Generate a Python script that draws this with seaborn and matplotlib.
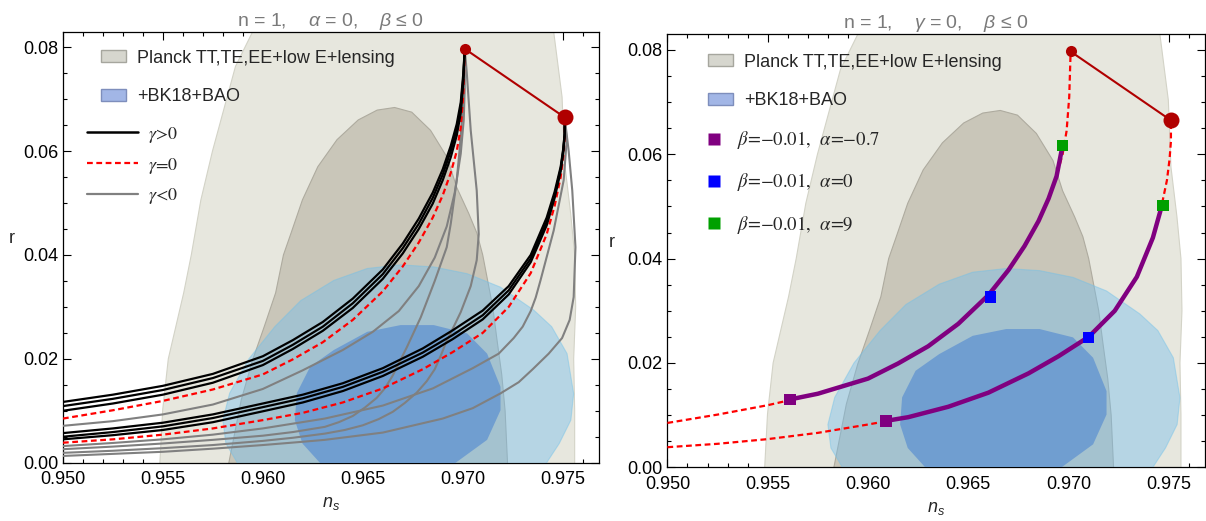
import numpy as np
import matplotlib
matplotlib.use("Agg")
import matplotlib.pyplot as plt
import seaborn as sns
from matplotlib.patches import Patch
from matplotlib.lines import Line2D
from matplotlib.ticker import MultipleLocator, FormatStrFormatter

# ---------------- data ----------------
# Planck 95% / 68% regions (n_s, r) boundary points
PLANCK95_NS = [0.95485, 0.95485, 0.95499, 0.95527, 0.95604, 0.95642, 0.95690, 0.95748, 0.95863, 0.95949, 0.9605,
               0.9640, 0.9680, 0.9725, 0.97455, 0.97497, 0.9751, 0.9754, 0.9756, 0.97565, 0.97555, 0.9756, 0.9756, 0.9756]
PLANCK95_R = [-0.005, 0.0, 0.0102, 0.0200, 0.0327, 0.0400, 0.0506, 0.0600, 0.0763, 0.0830, 0.0900,
              0.0960, 0.0970, 0.0930, 0.0830, 0.0704, 0.0576, 0.0480, 0.0400, 0.0300, 0.0200, 0.0100, 0.0, -0.005]
PLANCK68_NS = [0.95828, 0.95830, 0.95892, 0.95949, 0.96007, 0.96064, 0.96103, 0.96141, 0.96198, 0.96275, 0.96371,
               0.96477, 0.96572, 0.96659, 0.96745, 0.96839, 0.96922, 0.96970, 0.97030, 0.97071, 0.97100, 0.97125,
               0.97150, 0.97172, 0.97195, 0.97212, 0.97224, 0.97224]
PLANCK68_R = [-0.005, 0.0, 0.0121, 0.0198, 0.0262, 0.0327, 0.0400, 0.0442, 0.0506, 0.0570, 0.0622,
              0.0660, 0.0679, 0.0684, 0.0675, 0.0640, 0.0588, 0.0530, 0.0480, 0.0442, 0.0400, 0.0350,
              0.0300, 0.0235, 0.0170, 0.0100, 0.0, -0.005]
BK95_NS = [0.95872, 0.95815, 0.95800, 0.95834, 0.95930, 0.96060, 0.96189, 0.96355, 0.96522, 0.96689, 0.96855,
           0.97022, 0.97189, 0.97355, 0.97445, 0.97522, 0.97555, 0.97541, 0.97483, 0.97420, 0.9738, 0.9592]
BK95_R = [0.0, 0.0037, 0.0082, 0.0134, 0.0200, 0.0262, 0.0312, 0.0351, 0.0374, 0.0381, 0.0377,
          0.0364, 0.0338, 0.0294, 0.0262, 0.0210, 0.0133, 0.0082, 0.0037, 0.0, -0.003, -0.003]
BK68_NS = [0.96285, 0.96198, 0.96160, 0.96170, 0.96237, 0.96355, 0.96522, 0.96689, 0.96855, 0.97022, 0.97122,
           0.97189, 0.97189, 0.97122, 0.96965, 0.9690, 0.9635]
BK68_R = [0.0, 0.0037, 0.0082, 0.0134, 0.0185, 0.0217, 0.0252, 0.0265, 0.0265, 0.0249, 0.0210,
          0.0146, 0.0101, 0.0044, 0.0, -0.002, -0.002]

# end points (beta = 0) of the two families
END_NS = [0.9701, 0.9751]
END_R = [0.0797, 0.0665]

# family A (ends at the upper dot)
A_NS = [0.9500, 0.9525, 0.9550, 0.9575, 0.9600, 0.9615, 0.9630, 0.9645, 0.9660, 0.9670, 0.9678, 0.9685,
        0.9690, 0.9694, 0.9697, 0.9699, 0.97003, 0.9701]
A_RED_R = [0.0085, 0.0101, 0.0119, 0.0141, 0.0170, 0.0199, 0.0232, 0.0275, 0.0330, 0.0378, 0.0424, 0.0472,
           0.0515, 0.0558, 0.0600, 0.0645, 0.0710, 0.0797]
A_BLK1_R = [0.0117, 0.0131, 0.0148, 0.0171, 0.0205, 0.0236, 0.0271, 0.0316, 0.0372, 0.0422, 0.0470, 0.0520,
            0.0565, 0.0610, 0.0652, 0.0694, 0.0750, 0.0797]
A_BLK2_R = [0.0109, 0.0123, 0.0140, 0.0163, 0.0196, 0.0227, 0.0262, 0.0307, 0.0363, 0.0413, 0.0460, 0.0510,
            0.0555, 0.0600, 0.0642, 0.0685, 0.0742, 0.0797]
A_BLK3_R = [0.0100, 0.0114, 0.0131, 0.0154, 0.0188, 0.0219, 0.0254, 0.0298, 0.0354, 0.0403, 0.0450, 0.0499,
            0.0544, 0.0588, 0.0630, 0.0673, 0.0733, 0.0797]
A_G1_NS = [0.9500, 0.9525, 0.9550, 0.9575, 0.9600, 0.9620, 0.9640, 0.9655, 0.9668, 0.9678, 0.9686, 0.9692,
           0.9696, 0.9699, 0.97005, 0.9701, 0.9701]
A_G1_R = [0.0071, 0.0080, 0.0093, 0.0112, 0.0142, 0.0178, 0.0217, 0.0252, 0.0292, 0.0340, 0.0395, 0.0455,
          0.0520, 0.0595, 0.0660, 0.0720, 0.0797]
A_G2_NS = [0.9500, 0.9525, 0.9550, 0.9575, 0.9600, 0.9615, 0.9631, 0.9638, 0.9645, 0.9651, 0.9657, 0.9661,
           0.9665, 0.9672, 0.9679, 0.9686, 0.9692, 0.9694, 0.9697, 0.96985, 0.9700, 0.9701]
A_G2_R = [0.0026, 0.0031, 0.0037, 0.0044, 0.0052, 0.0059, 0.0069, 0.0078, 0.0090, 0.0106, 0.0125, 0.0143,
          0.0168, 0.0222, 0.0280, 0.0350, 0.0415, 0.0460, 0.0544, 0.0605, 0.0680, 0.0797]
A_G3_NS = [0.9500, 0.9525, 0.9550, 0.9575, 0.9600, 0.9615, 0.9631, 0.9641, 0.9650, 0.9658, 0.9665, 0.9671,
           0.9677, 0.9682, 0.9686, 0.9689, 0.9692, 0.96955, 0.9699, 0.97015, 0.9704, 0.9707, 0.9708, 0.9707,
           0.9704, 0.9702, 0.9701]
A_G3_R = [0.0019, 0.0023, 0.0028, 0.0034, 0.0042, 0.0048, 0.0056, 0.0063, 0.0072, 0.0084, 0.0098, 0.0115,
          0.0135, 0.0157, 0.0180, 0.0206, 0.0235, 0.0262, 0.0290, 0.0315, 0.0340, 0.0390, 0.0440, 0.0524,
          0.0640, 0.0752, 0.0797]

# family B (ends at the lower, larger dot)
B_NS = [0.9500, 0.9525, 0.9550, 0.9575, 0.9600, 0.9620, 0.9640, 0.9660, 0.9680, 0.9695, 0.9710, 0.9723,
        0.9734, 0.9742, 0.9746, 0.9749, 0.97503, 0.97510, 0.97510]
B_RED_R = [0.00385, 0.0045, 0.0054, 0.0066, 0.0082, 0.0096, 0.0116, 0.0143, 0.0180, 0.0213, 0.0250, 0.0300,
           0.0365, 0.0440, 0.0495, 0.0550, 0.0590, 0.0625, 0.0665]
B_BLK1_R = [0.0057, 0.0066, 0.0077, 0.0093, 0.0114, 0.0131, 0.0153, 0.0182, 0.0220, 0.0255, 0.0293, 0.0340,
            0.0400, 0.0472, 0.0522, 0.0570, 0.0605, 0.0635, 0.0665]
B_BLK2_R = [0.0050, 0.0059, 0.0070, 0.0086, 0.0107, 0.0124, 0.0146, 0.0175, 0.0212, 0.0246, 0.0284, 0.0332,
            0.0393, 0.0464, 0.0516, 0.0566, 0.0602, 0.0633, 0.0665]
B_BLK3_R = [0.0045, 0.0053, 0.0063, 0.0078, 0.0099, 0.0116, 0.0138, 0.0167, 0.0204, 0.0238, 0.0276, 0.0324,
            0.0386, 0.0457, 0.0510, 0.0561, 0.0598, 0.0630, 0.0665]
B_G1_NS = [0.9500, 0.9525, 0.9550, 0.9575, 0.9600, 0.9631, 0.9660, 0.9685, 0.9705, 0.9718, 0.97255, 0.9730,
           0.9734, 0.97365, 0.97389, 0.97455, 0.97505, 0.9752, 0.9751]
B_G1_R = [0.0032, 0.0038, 0.0045, 0.0054, 0.0066, 0.0085, 0.0110, 0.0143, 0.0182, 0.0210, 0.0240, 0.0262,
          0.0292, 0.0318, 0.0351, 0.0447, 0.0544, 0.0620, 0.0665]
B_G2_NS = [0.9500, 0.9525, 0.9550, 0.9575, 0.9600, 0.9619, 0.9631, 0.9660, 0.9690, 0.9705, 0.97189, 0.9728,
           0.9735, 0.9743, 0.97497, 0.97535, 0.97555, 0.97564, 0.97548, 0.9753, 0.9751]
B_G2_R = [0.0013, 0.0017, 0.0021, 0.0027, 0.0034, 0.0040, 0.0044, 0.0058, 0.0085, 0.0105, 0.01335, 0.0155,
          0.0180, 0.0210, 0.0240, 0.0275, 0.0319, 0.0415, 0.0524, 0.0600, 0.0665]

# right panel squares: (upper curve, lower curve) for alpha = -0.7, 0, 9
SQ_UP_NS = [0.9561, 0.9661, 0.9697]
SQ_UP_R = [0.0130, 0.0327, 0.0617]
SQ_LO_NS = [0.9609, 0.9710, 0.9747]
SQ_LO_R = [0.0089, 0.0249, 0.0502]
SQ_COLORS = ['#800080', '#0000ff', '#00a000']
SQ_LABELS = ["$\\beta$=\u22120.01,  $\\alpha$=\u22120.7",
             "$\\beta$=\u22120.01,  $\\alpha$=0",
             "$\\beta$=\u22120.01,  $\\alpha$=9"]

PATCH_LABELS = ["Planck TT,TE,EE+low E+lensing", "+BK18+BAO"]
GAMMA_LABELS = ["$\\gamma$>0", "$\\gamma$=0", "$\\gamma$<0"]
TITLES = ["n = 1,    $\\alpha$ = 0,    $\\beta$ \u2264 0", "n = 1,    $\\gamma$ = 0,    $\\beta$ \u2264 0"]
XTICKS = [0.950, 0.955, 0.960, 0.965, 0.970, 0.975]
YTICKS = [0.00, 0.02, 0.04, 0.06, 0.08]

# ---------------- style ----------------
sns.set_theme(style="ticks")
plt.rcParams['font.family'] = ['Liberation Sans', 'DejaVu Sans']
plt.rcParams['mathtext.fontset'] = 'custom'
plt.rcParams['mathtext.rm'] = 'Liberation Sans'
plt.rcParams['mathtext.it'] = 'Liberation Sans:italic'
plt.rcParams['mathtext.bf'] = 'Liberation Sans:bold'

RED_DASH = (0, (2.6, 1.6))
DARKRED = '#b00000'

fig = plt.figure(figsize=(12.06, 5.21), dpi=100)
axL = fig.add_axes([0.0522, 0.1119, 0.4442, 0.8273])
axR = fig.add_axes([0.5534, 0.1031, 0.4458, 0.8311])


def draw_contours(ax):
    ax.fill(PLANCK95_NS, PLANCK95_R, facecolor='#e7e7de', edgecolor='#d3d3c7', lw=0.8, zorder=1)
    ax.fill(PLANCK68_NS, PLANCK68_R, facecolor='#c9c6b9', edgecolor='#aeab9f', lw=0.8, zorder=2)
    ax.fill(BK95_NS, BK95_R, facecolor='#73beee', alpha=0.42, edgecolor='#6cc0ea', lw=0.8, zorder=3)
    ax.fill(BK68_NS, BK68_R, facecolor='#5d90d1', alpha=0.72, edgecolor='none', zorder=4)


def line(ax, x, y, **kw):
    sns.lineplot(x=x, y=y, sort=False, estimator=None, ax=ax, **kw)


def style_axes(ax, title, ylab_x):
    ax.set_xlim(0.950, 0.9768)
    ax.set_ylim(0.0, 0.0830)
    ax.set_xticks(XTICKS)
    ax.set_yticks(YTICKS)
    ax.xaxis.set_major_formatter(FormatStrFormatter('%.3f'))
    ax.yaxis.set_major_formatter(FormatStrFormatter('%.2f'))
    ax.xaxis.set_minor_locator(MultipleLocator(0.001))
    ax.yaxis.set_minor_locator(MultipleLocator(0.005))
    ax.tick_params(which='both', direction='in', top=True, right=True, colors='black',
                   labelsize=13, width=0.8)
    ax.tick_params(which='major', length=5.5)
    ax.tick_params(which='minor', length=3)
    ax.tick_params(axis='x', which='major', pad=6)
    ax.tick_params(axis='y', which='major', pad=3.5)
    for s in ax.spines.values():
        s.set_color('black')
        s.set_linewidth(0.9)
    ax.set_xlabel("$n_s$", fontsize=13, labelpad=5)
    ax.set_ylabel("r", fontsize=13, rotation=0)
    ax.yaxis.set_label_coords(ylab_x, 0.5)
    ax.set_title(title, fontsize=14, color='#7a7a7a', pad=2.5)
    ax.set_facecolor('white')


def end_points(ax):
    ax.plot(END_NS, END_R, color=DARKRED, lw=1.5, zorder=9)
    ax.plot(END_NS[0], END_R[0], 'o', color=DARKRED, ms=8, mec='none', zorder=10)
    ax.plot(END_NS[1], END_R[1], 'o', color=DARKRED, ms=11.5, mec='none', zorder=10)


def patch_legend(ax, x, y):
    handles = [Patch(facecolor='#d6d6ce', edgecolor='#a6a69e', lw=1.0),
               Patch(facecolor='#a2b6e6', edgecolor='#7e8ebc', lw=1.0)]
    leg = ax.legend(handles, PATCH_LABELS, loc='upper left', bbox_to_anchor=(x, y), frameon=False,
                    fontsize=13, handlelength=1.4, handleheight=0.65, handletextpad=0.6,
                    labelspacing=1.2, borderpad=0, borderaxespad=0)
    ax.add_artist(leg)
    return leg


# ---------------- left panel ----------------
ax = axL
draw_contours(ax)
for xs, ys in [(A_G1_NS, A_G1_R), (A_G2_NS, A_G2_R), (A_G3_NS, A_G3_R),
               (B_G1_NS, B_G1_R), (B_G2_NS, B_G2_R)]:
    line(ax, xs, ys, color='#808080', lw=1.5, zorder=5)
line(ax, A_NS, A_RED_R, color='red', lw=1.6, linestyle=RED_DASH, zorder=6)
line(ax, B_NS, B_RED_R, color='red', lw=1.6, linestyle=RED_DASH, zorder=6)
for ys in [A_BLK1_R, A_BLK2_R, A_BLK3_R]:
    line(ax, A_NS, ys, color='black', lw=1.6, zorder=7)
for ys in [B_BLK1_R, B_BLK2_R, B_BLK3_R]:
    line(ax, B_NS, ys, color='black', lw=1.6, zorder=7)
end_points(ax)
style_axes(ax, TITLES[0], -0.095)
patch_legend(ax, 0.0709, 0.958)
lh = [Line2D([], [], color='black', lw=1.8),
      Line2D([], [], color='red', lw=1.6, linestyle=RED_DASH),
      Line2D([], [], color='#808080', lw=1.6)]
leg2 = ax.legend(lh, GAMMA_LABELS, loc='upper left', bbox_to_anchor=(0.045, 0.784), frameon=False,
                 prop=dict(family='STIXGeneral', size=13), handlelength=2.8, handletextpad=0.55,
                 labelspacing=0.6, borderpad=0, borderaxespad=0)
for t in leg2.get_texts():
    t.set_math_fontfamily('stix')

# ---------------- right panel ----------------
ax = axR
draw_contours(ax)
line(ax, A_NS, A_RED_R, color='red', lw=1.6, linestyle=RED_DASH, zorder=6)
line(ax, B_NS, B_RED_R, color='red', lw=1.6, linestyle=RED_DASH, zorder=6)
for cns, cr, sns_, sr in [(A_NS, A_RED_R, SQ_UP_NS, SQ_UP_R), (B_NS, B_RED_R, SQ_LO_NS, SQ_LO_R)]:
    cns = np.asarray(cns)
    cr = np.asarray(cr)
    m = (cns > sns_[0]) & (cns < sns_[-1])
    px = np.concatenate([[sns_[0]], cns[m], [sns_[-1]]])
    py = np.concatenate([[sr[0]], cr[m], [sr[-1]]])
    line(ax, px, py, color='#800080', lw=3.2, zorder=7)
end_points(ax)
for sns_, sr in [(SQ_UP_NS, SQ_UP_R), (SQ_LO_NS, SQ_LO_R)]:
    sns.scatterplot(x=sns_, y=sr, hue=SQ_LABELS, palette=SQ_COLORS, marker='s', s=70,
                    edgecolor='none', legend=False, ax=ax, zorder=11)
style_axes(ax, TITLES[1], -0.104)
patch_legend(ax, 0.075, 0.955)
sh = [Line2D([], [], color=c, marker='s', ls='none', ms=8.5, mec='none') for c in SQ_COLORS]
leg3 = ax.legend(sh, SQ_LABELS, loc='upper left', bbox_to_anchor=(0.069, 0.781), frameon=False,
                 prop=dict(family='STIXGeneral', size=13.5), handlelength=1.0, handletextpad=0.76,
                 labelspacing=1.08, borderpad=0, borderaxespad=0)
for t in leg3.get_texts():
    t.set_math_fontfamily('stix')

fig.savefig("out.png", dpi=100)
